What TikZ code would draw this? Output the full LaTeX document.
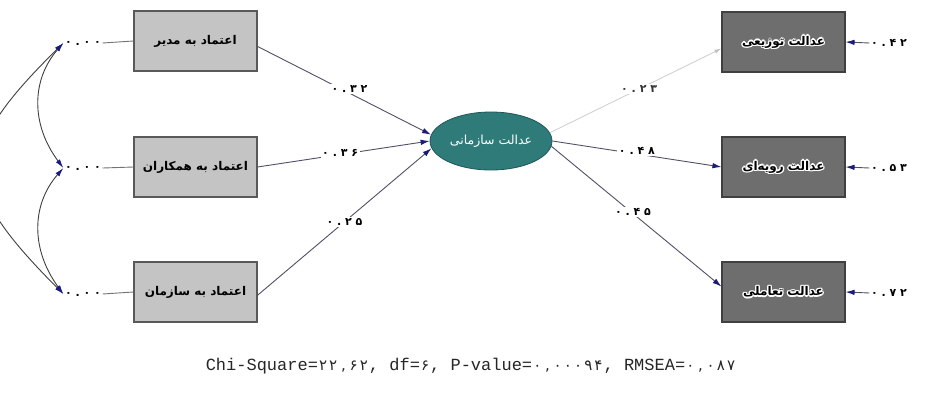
\documentclass[tikz,border=0pt]{standalone}
\usepackage{fontspec}
\usetikzlibrary{shapes.geometric,arrows.meta}
\TeXXeTstate=1
\newfontfamily\fa[Script=Arabic]{DejaVu Sans}
\newfontfamily\numf[LetterSpace=35]{DejaVu Sans}
\newfontfamily\numg{DejaVu Sans}
\newfontfamily\monof{Liberation Mono}
\definecolor{lbox}{HTML}{C4C4C4}
\definecolor{dbox}{HTML}{6E6E6E}
\definecolor{tealx}{HTML}{2E7B7A}
\definecolor{navyx}{HTML}{1C1C78}
\definecolor{lineg}{HTML}{505068}
\newlength\mw
\newcommand\pdg[1]{\makebox[\mw][c]{\numg\fontsize{15}{17}\selectfont #1}}
\begin{document}
\begin{tikzpicture}[x=1pt,y=-1pt,
  lboxs/.style={draw=black!65, line width=1.1pt, fill=lbox, minimum width=123pt,
    minimum height=60pt, inner sep=0pt, font=\fa\bfseries\fontsize{12}{14}\selectfont},
  rboxs/.style={draw=black!75, line width=1.1pt, fill=dbox, minimum width=123pt,
    minimum height=60pt, inner sep=0pt},
  rtxt/.style={font=\fa\bfseries\fontsize{12}{14}\selectfont, inner sep=0pt},
  orgs/.style={ellipse, draw=tealx!70!black, line width=0.8pt, fill=tealx,
    minimum width=122pt, minimum height=58pt, inner sep=0pt, text=white,
    font=\fa\fontsize{12.5}{14}\selectfont},
  numt/.style={font=\numf\bfseries\fontsize{11}{13}\selectfont, inner sep=1.5pt},
  lab/.style={numt, fill=white},
  pth/.style={draw=lineg, line width=0.9pt,
    arrows={-Latex[length=9pt,width=5.5pt,color=navyx]}},
  faint/.style={draw=black!18, line width=0.9pt,
    arrows={-Latex[length=7pt,width=4pt,color=black!25]}},
  cov/.style={draw=black!75, line width=0.9pt,
    arrows={Latex[length=9pt,width=5pt,color=navyx]-Latex[length=9pt,width=5pt,color=navyx]}},
  thinl/.style={draw=black!55, line width=0.9pt},
]
\useasboundingbox (0,0) rectangle (943,405);
\clip (0,0) rectangle (943,405);
\fill[white] (0,0) rectangle (943,405);

% left observed variables
\node[lboxs] (l1) at (195.5,41) {\beginR اعتماد به مدیر\endR};
\node[lboxs] (l2) at (195.5,167) {\beginR اعتماد به همکاران\endR};
\node[lboxs] (l3) at (195.5,292) {\beginR اعتماد به سازمان\endR};

% variances
\node[numt] (v1) at (83,43) {۰.۰۰};
\node[numt] (v2) at (83,168) {۰.۰۰};
\node[numt] (v3) at (83,294) {۰.۰۰};
\draw[thinl] (v1.east) -- (l1.west);
\draw[thinl] (v2.east) -- (l2.west);
\draw[thinl] (v3.east) -- (l3.west);

% covariances
\draw[cov] (v1.west) .. controls (31,80) and (31,125) .. (v2.west);
\draw[cov] (v2.west) .. controls (31,205) and (31,250) .. (v3.west);
\draw[cov] (v1.west) .. controls (-45,150) and (-45,185) .. (v3.west);

% latent variable
\node[orgs] (org) at (491,141) {\beginR عدالت سازمانی\endR};

% right observed variables (black text with white halo)
\node[rboxs] (r1) at (783.5,42) {};
\node[rboxs] (r2) at (783.5,167) {};
\node[rboxs] (r3) at (783.5,292) {};
\foreach \n/\t in {r1/{عدالت توزیعی},r2/{عدالت رویه‌ای},r3/{عدالت تعاملی}}{
  \foreach \a in {0,45,...,315}
    \node[rtxt, text=white] (h\n\a) at ([shift={(\a:1.4pt)}]\n.center) {\beginR\t\endR};
  \node[rtxt, text=black] (t\n) at (\n.center) {\beginR\t\endR};
}

% paths into latent
\draw[pth] (l1.-5) -- node[lab, pos=0.53, yshift=4pt] (p1) {۰.۳۲} (org.174);
\draw[pth] (l2.east) -- node[lab, pos=0.48, yshift=2pt] (p2) {۰.۳۶} (org.180);
\draw[pth] (l3.-3) -- node[lab, pos=0.5] (p3) {۰.۲۵} (org.187);

% paths out of latent
\draw[faint] (org.8) -- node[lab, pos=0.52, text=black!80] (q1) {۰.۲۳} (r1.-174);
\draw[pth] (org.0) -- node[lab, pos=0.5, yshift=3pt] (q2) {۰.۴۸} (r2.west);
\draw[pth] (org.-5) -- node[lab, pos=0.48, yshift=2pt] (q3) {۰.۴۵} (r3.175);

% error terms
\node[numt] (e1) at (889,43) {۰.۴۲};
\node[numt] (e2) at (889,168) {۰.۵۳};
\node[numt] (e3) at (889,293) {۰.۷۲};
\draw[pth] (e1.west) -- (r1.east);
\draw[pth] (e2.west) -- (r2.east);
\draw[pth] (e3.west) -- (r3.east);

% fit statistics
\node[inner sep=0pt, text=black!85] (fit) at (471,366) {\monof\fontsize{17}{19}\selectfont\settowidth\mw{0}%
Chi-Square=\pdg{۲}\pdg{۲}\pdg{,}\pdg{۶}\pdg{۲}, df=\pdg{۶}, P-value=\pdg{۰}\pdg{,}\pdg{۰}\pdg{۰}\pdg{۰}\pdg{۹}\pdg{۴}, RMSEA=\pdg{۰}\pdg{,}\pdg{۰}\pdg{۸}\pdg{۷}};
\end{tikzpicture}
\end{document}
